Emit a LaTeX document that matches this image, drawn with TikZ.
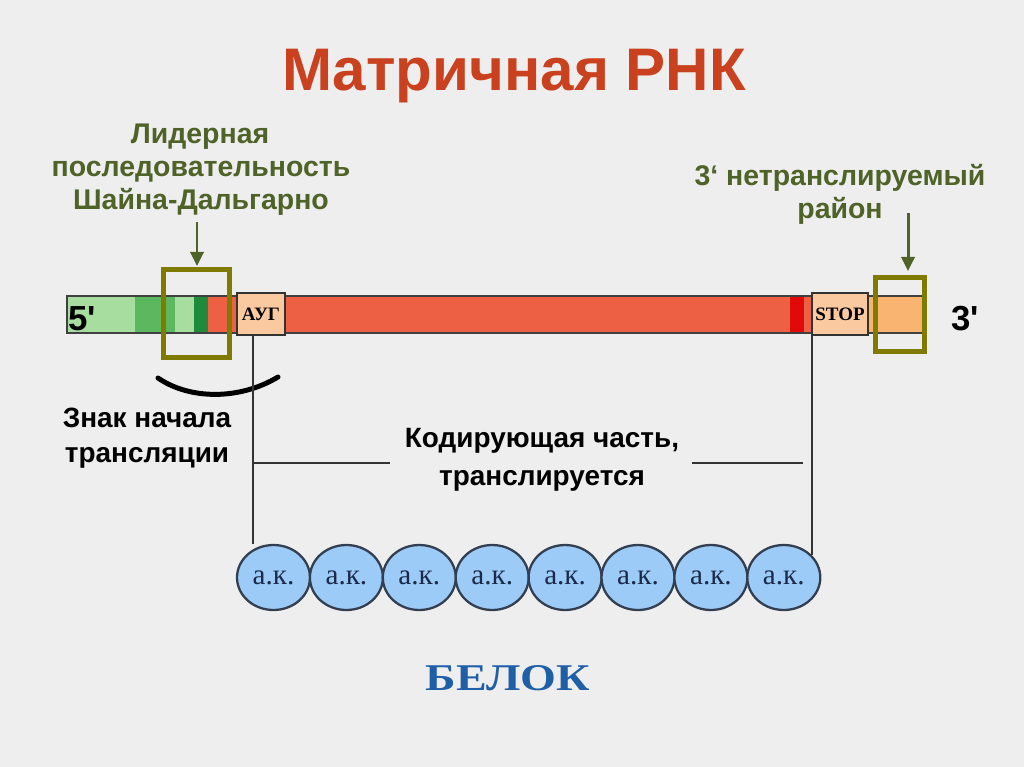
\documentclass[tikz,border=0pt]{standalone}
\usepackage{fontspec}
\setmainfont{Liberation Serif}
\setsansfont{Liberation Sans}
\newfontfamily\plainsans{Liberation Sans}
\usetikzlibrary{arrows.meta,shapes.geometric}
\definecolor{bg}{HTML}{EEEEEE}
\definecolor{titlered}{HTML}{C9411E}
\definecolor{olivetext}{HTML}{4F6228}
\definecolor{olivebox}{HTML}{7F7A00}
\definecolor{lgreen}{HTML}{A8DDA0}
\definecolor{mgreen}{HTML}{5CB85F}
\definecolor{dgreen}{HTML}{1E8A3C}
\definecolor{barred}{HTML}{EE6044}
\definecolor{bred}{HTML}{E00A0A}
\definecolor{peach}{HTML}{FBC9A0}
\definecolor{utrorange}{HTML}{FAB472}
\definecolor{akfill}{HTML}{9DCBF7}
\definecolor{akline}{HTML}{333F50}
\definecolor{aktext}{HTML}{1A2A4A}
\definecolor{belok}{HTML}{1F5FA8}
\begin{document}
\begin{tikzpicture}[x=0.02cm,y=-0.02cm,
  titletext/.style={font=\sffamily\bfseries\fontsize{34.2}{40}\selectfont, text=titlered, inner sep=0, anchor=base},
  olivelabel/.style={font=\sffamily\bfseries\fontsize{16.2}{18}\selectfont, text=olivetext, inner sep=0, anchor=base},
  blacklabel/.style={font=\sffamily\bfseries\fontsize{15.9}{18}\selectfont, text=black, inner sep=0, anchor=base},
  endlabel/.style={font=\plainsans\bfseries\fontsize{19.8}{22}\selectfont, text=black, inner sep=0, anchor=base west},
  codon/.style={draw=black!80, line width=0.6pt, fill=peach, inner sep=0, minimum height=0.84cm, font=\bfseries\fontsize{10.8}{12}\selectfont},
  barline/.style={draw=black!75, line width=0.6pt},
  olivefr/.style={draw=olivebox, line width=2.83pt},
  olivearrow/.style={draw=olivetext, line width=1.7pt, -{Triangle[width=7.5pt,length=8pt]}},
  thinline/.style={draw=black!80, line width=0.6pt},
  aa/.style={ellipse, draw=akline, line width=1.3pt, fill=akfill, minimum width=1.46cm, minimum height=1.3cm, inner sep=0, font=\fontsize{16.6}{18}\selectfont, text=aktext},
  belokstyle/.style={font=\bfseries\fontsize{21.5}{24}\selectfont, text=belok, inner sep=0, anchor=base, xscale=1.22}
]
\fill[bg] (0,0) rectangle (1024,767);
\useasboundingbox (0,0) rectangle (1024,767);

% title
\node[titletext] (title) at (514,91) {Матричная РНК};

% leader labels
\node[olivelabel] (l1) at (200,143) {Лидерная};
\node[olivelabel] (l2) at (201,176) {последовательность};
\node[olivelabel] (l3) at (201,209) {Шайна-Дальгарно};

\node[olivelabel] (r1) at (840,185) {3‘ нетранслируемый};
\node[olivelabel] (r2) at (840,218) {район};

% arrows
\coordinate (a1s) at (197,222);
\coordinate (a1e) at (197,266);
\draw[olivearrow] (a1s) -- (a1e);
\coordinate (a2s) at (908,213);
\coordinate (a2e) at (908,271);
\draw[olivearrow] (a2s) -- (a2e);

% mRNA bar
\fill[lgreen] (67,296) rectangle (135,333);
\fill[mgreen] (135,296) rectangle (175,333);
\fill[lgreen] (175,296) rectangle (194,333);
\fill[dgreen] (194,296) rectangle (208,333);
\fill[barred] (208,296) rectangle (812,333);
\fill[bred] (790,296) rectangle (804,333);
\fill[utrorange] (868,296) rectangle (925,333);
\draw[barline] (67,296) rectangle (925,333);

\node[codon, minimum width=0.96cm] (aug) at (261,314) {АУГ};
\node[codon, minimum width=1.12cm] (stop) at (840,314) {STOP};

% olive frames
\draw[olivefr] (163.5,269.5) rectangle (229.5,357.5);
\draw[olivefr] (875.5,277.5) rectangle (924.5,351.5);

% end labels
\node[endlabel] (five) at (68,330) {5'};
\node[endlabel] (three) at (951,330) {3'};

% arc
\coordinate (arcL) at (158,378);
\coordinate (arcR) at (278,377);
\draw[line width=2.83pt, line cap=round] (arcL) .. controls (190,400) and (240,400) .. (arcR);

% labels
\node[blacklabel] (z1) at (147,427) {Знак начала};
\node[blacklabel] (z2) at (147,462) {трансляции};
\node[blacklabel] (k1) at (542,447) {Кодирующая часть,};
\node[blacklabel] (k2) at (542,485) {транслируется};

% amino acids
\foreach \i in {1,...,8} {
  \node[aa] (ak\i) at ({273.5+72.9*(\i-1)},577.5) {а.к.};
}

% connecting lines
\coordinate (augline) at (253,335);
\coordinate (stopline) at (812,335);
\coordinate (stopend) at (812,555);
\draw[thinline] (augline) -- (augline |- ak1.north);
\draw[thinline] (stopline) -- (stopend);
\coordinate (hl1) at (390,463);
\coordinate (hr1) at (692,463);
\coordinate (hr2) at (803,463);
\draw[thinline] (augline |- hl1) -- (hl1);
\draw[thinline] (hr1) -- (hr2);

% protein
\node[belokstyle] (prot) at (508,690) {БЕЛОК};
\end{tikzpicture}
\end{document}
